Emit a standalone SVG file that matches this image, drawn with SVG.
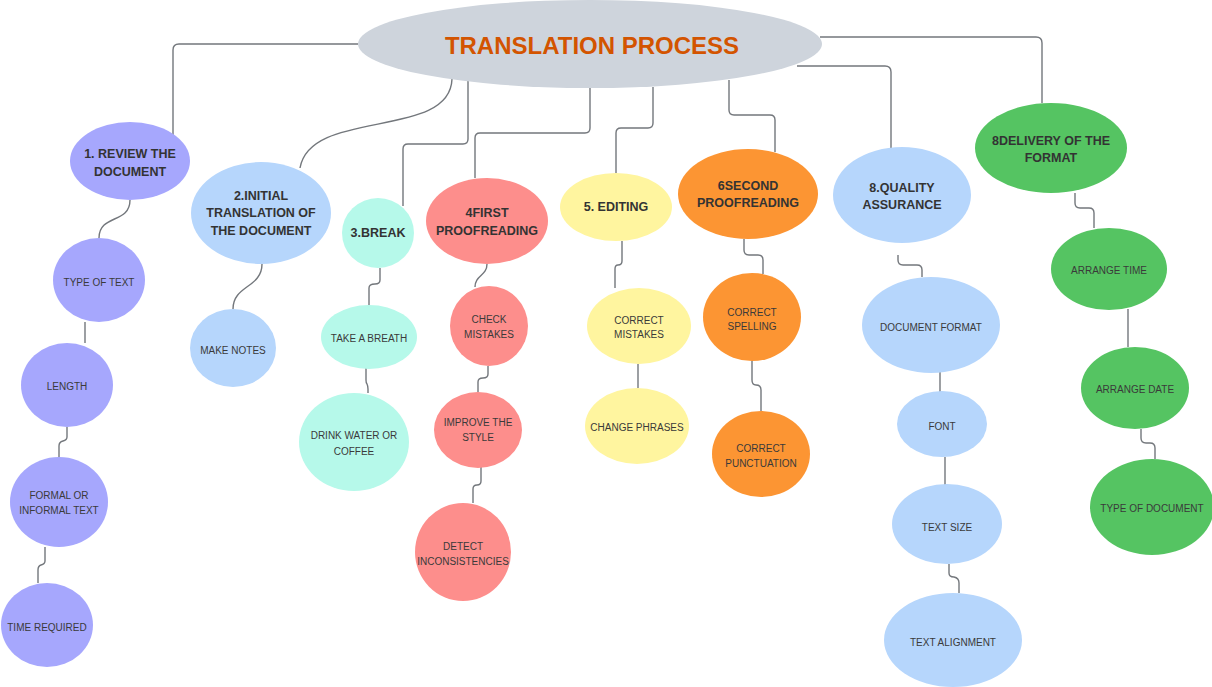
<svg xmlns="http://www.w3.org/2000/svg" width="1212" height="687" viewBox="0 0 1212 687">
<style>
.bg{fill:#ffffff}
.c{fill:none;stroke:#73777c;stroke-width:1.4}
.t{font-family:"Liberation Sans",Arial,sans-serif;font-size:10px;fill:#3a3a3a;text-anchor:middle}
.h{font-family:"Liberation Sans",Arial,sans-serif;font-size:12.5px;font-weight:bold;fill:#333333;text-anchor:middle}
.title{font-family:"Liberation Sans",Arial,sans-serif;font-size:24px;font-weight:bold;fill:#d35400;text-anchor:middle}
.pur{fill:#a6a7fd}
.blu{fill:#b6d6fc}
.min{fill:#b6f9ea}
.sal{fill:#fd8e8c}
.yel{fill:#fff59f}
.ora{fill:#fc9533}
.gre{fill:#55c462}
.cen{fill:#ced4dc}
</style>
<rect class="bg" x="0" y="0" width="1212" height="687"/>
<g id="connectors">
<path class="c" d="M358,44 H179 Q173,44 173,50 V140"/>
<path class="c" d="M452,79 C450,140 310,108 300,168"/>
<path class="c" d="M468,80 V139 Q468,144 463,144 H408 Q403,144 403,149 V206"/>
<path class="c" d="M590,88 V128 Q590,133 585,133 H480 Q475,133 475,138 V178"/>
<path class="c" d="M653,87 V123 Q653,128 648,128 H621 Q616,128 616,133 V173"/>
<path class="c" d="M729,80 V110 Q729,115 734,115 H770 Q775,115 775,120 V152"/>
<path class="c" d="M797,66 H885 Q891,66 891,72 V148"/>
<path class="c" d="M820,37 H1036 Q1042,37 1042,43 V103"/>
<path class="c" d="M130,200 C130,224 99,214 99,238"/>
<path class="c" d="M85,322 V343"/>
<path class="c" d="M67,427 V437 Q67,440 63,441 Q59,442 59,446 V457"/>
<path class="c" d="M45,547 V561 Q45,564 41,565 Q38,566 38,570 V583"/>
<path class="c" d="M262,264 C262,288 233,285 233,309"/>
<path class="c" d="M380,268 V280 Q380,284 375,284 Q369,284 369,288 V305"/>
<path class="c" d="M366,368 V380 Q366,383 367,384 Q368,386 368,389 V393"/>
<path class="c" d="M487,264 C487,276 475,275 475,287"/>
<path class="c" d="M488,366 V374 Q488,378 483,378 Q478,378 478,382 V392"/>
<path class="c" d="M481,467 V481 Q481,485 477,485 Q473,485 473,489 V503"/>
<path class="c" d="M622,241 V261 Q622,265 618,265 Q615,265 615,269 V288"/>
<path class="c" d="M638,364 V388"/>
<path class="c" d="M744,239 V250 Q744,255 749,255 H758 Q763,255 763,260 V274"/>
<path class="c" d="M752,361 V380 Q752,385 756,385 Q761,385 761,390 V411"/>
<path class="c" d="M898,255 V260 Q898,265 903,265 H917 Q922,265 922,270 V277"/>
<path class="c" d="M940,372 V392"/>
<path class="c" d="M945,457 V485"/>
<path class="c" d="M949,564 V573 Q949,577 954,577 Q959,578 959,583 V593"/>
<path class="c" d="M1075,193 V203 Q1075,208 1080,208 H1089 Q1094,208 1094,213 V228"/>
<path class="c" d="M1128,309 V347"/>
<path class="c" d="M1141,429 V438 Q1141,443 1146,443 H1150 Q1155,443 1155,448 V459"/>
</g>
<g id="center">
<ellipse class="cen" cx="590" cy="44" rx="232" ry="44"/>
<text class="title" x="592" y="54">TRANSLATION PROCESS</text>
</g>
<g id="n1">
<ellipse class="pur" cx="130" cy="161" rx="60" ry="39"/>
<text class="h" x="130" y="158">1. REVIEW THE</text>
<text class="h" x="130" y="176">DOCUMENT</text>
</g>
<g id="n1a">
<ellipse class="pur" cx="99" cy="280" rx="46" ry="42"/>
<text class="t" x="99" y="286">TYPE OF TEXT</text>
</g>
<g id="n1b">
<ellipse class="pur" cx="67" cy="385" rx="46" ry="42"/>
<text class="t" x="67" y="390">LENGTH</text>
</g>
<g id="n1c">
<ellipse class="pur" cx="59" cy="502" rx="49" ry="45"/>
<text class="t" x="59" y="499">FORMAL OR</text>
<text class="t" x="59" y="514">INFORMAL TEXT</text>
</g>
<g id="n1d">
<ellipse class="pur" cx="47" cy="625" rx="46" ry="42"/>
<text class="t" x="47" y="631">TIME REQUIRED</text>
</g>
<g id="n2">
<ellipse class="blu" cx="261" cy="213" rx="70" ry="51"/>
<text class="h" x="261" y="200">2.INITIAL</text>
<text class="h" x="261" y="217">TRANSLATION OF</text>
<text class="h" x="261" y="235">THE DOCUMENT</text>
</g>
<g id="n2a">
<ellipse class="blu" cx="233" cy="348" rx="43" ry="39"/>
<text class="t" x="233" y="354">MAKE NOTES</text>
</g>
<g id="n3">
<ellipse class="min" cx="378" cy="233" rx="36" ry="35"/>
<text class="h" x="378" y="237">3.BREAK</text>
</g>
<g id="n3a">
<ellipse class="min" cx="369" cy="337" rx="48" ry="32"/>
<text class="t" x="369" y="342">TAKE A BREATH</text>
</g>
<g id="n3b">
<ellipse class="min" cx="354" cy="442" rx="55" ry="49"/>
<text class="t" x="354" y="439">DRINK WATER OR</text>
<text class="t" x="354" y="455">COFFEE</text>
</g>
<g id="n4">
<ellipse class="sal" cx="487" cy="221" rx="61" ry="43"/>
<text class="h" x="487" y="217">4FIRST</text>
<text class="h" x="487" y="235">PROOFREADING</text>
</g>
<g id="n4a">
<ellipse class="sal" cx="489" cy="326" rx="39" ry="40"/>
<text class="t" x="489" y="323">CHECK</text>
<text class="t" x="489" y="338">MISTAKES</text>
</g>
<g id="n4b">
<ellipse class="sal" cx="478" cy="430" rx="44" ry="38"/>
<text class="t" x="478" y="426">IMPROVE THE</text>
<text class="t" x="478" y="441">STYLE</text>
</g>
<g id="n4c">
<ellipse class="sal" cx="463" cy="552" rx="48" ry="49"/>
<text class="t" x="463" y="550">DETECT</text>
<text class="t" x="463" y="565">INCONSISTENCIES</text>
</g>
<g id="n5">
<ellipse class="yel" cx="616" cy="207" rx="56" ry="34"/>
<text class="h" x="616" y="211">5. EDITING</text>
</g>
<g id="n5a">
<ellipse class="yel" cx="639" cy="326" rx="52" ry="38"/>
<text class="t" x="639" y="324">CORRECT</text>
<text class="t" x="639" y="338">MISTAKES</text>
</g>
<g id="n5b">
<ellipse class="yel" cx="637" cy="426" rx="52" ry="38"/>
<text class="t" x="637" y="431">CHANGE PHRASES</text>
</g>
<g id="n6">
<ellipse class="ora" cx="748" cy="194" rx="70" ry="45"/>
<text class="h" x="748" y="190">6SECOND</text>
<text class="h" x="748" y="207">PROOFREADING</text>
</g>
<g id="n6a">
<ellipse class="ora" cx="752" cy="317" rx="49" ry="44"/>
<text class="t" x="752" y="316">CORRECT</text>
<text class="t" x="752" y="330">SPELLING</text>
</g>
<g id="n6b">
<ellipse class="ora" cx="761" cy="454" rx="49" ry="43"/>
<text class="t" x="761" y="452">CORRECT</text>
<text class="t" x="761" y="467">PUNCTUATION</text>
</g>
<g id="n7">
<ellipse class="blu" cx="902" cy="195" rx="69" ry="48"/>
<text class="h" x="902" y="192">8.QUALITY</text>
<text class="h" x="902" y="209">ASSURANCE</text>
</g>
<g id="n7a">
<ellipse class="blu" cx="931" cy="325" rx="69" ry="48"/>
<text class="t" x="931" y="331">DOCUMENT FORMAT</text>
</g>
<g id="n7b">
<ellipse class="blu" cx="942" cy="424" rx="45" ry="33"/>
<text class="t" x="942" y="430">FONT</text>
</g>
<g id="n7c">
<ellipse class="blu" cx="947" cy="524" rx="55" ry="40"/>
<text class="t" x="947" y="531">TEXT SIZE</text>
</g>
<g id="n7d">
<ellipse class="blu" cx="953" cy="640" rx="69" ry="47"/>
<text class="t" x="953" y="646">TEXT ALIGNMENT</text>
</g>
<g id="n8">
<ellipse class="gre" cx="1051" cy="148" rx="76" ry="45"/>
<text class="h" x="1051" y="145">8DELIVERY OF THE</text>
<text class="h" x="1051" y="162">FORMAT</text>
</g>
<g id="n8a">
<ellipse class="gre" cx="1109" cy="269" rx="58" ry="41"/>
<text class="t" x="1109" y="274">ARRANGE TIME</text>
</g>
<g id="n8b">
<ellipse class="gre" cx="1135" cy="388" rx="54" ry="41"/>
<text class="t" x="1135" y="393">ARRANGE DATE</text>
</g>
<g id="n8c">
<ellipse class="gre" cx="1152" cy="507" rx="62" ry="48"/>
<text class="t" x="1152" y="512">TYPE OF DOCUMENT</text>
</g>
</svg>
